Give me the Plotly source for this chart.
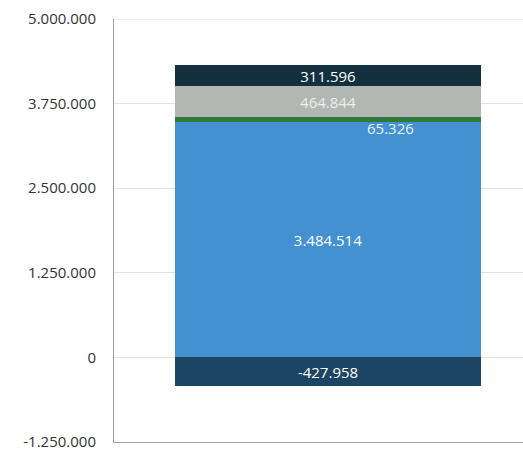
import plotly.graph_objects as go

# Stacked components of a single balance bar
segment_names = ["Base", "Adjustment", "Reserve", "Top-up", "Deduction"]
segment_values = [3484514, 65326, 464844, 311596, -427958]
segment_colors = ["#4391d0", "#2f7a3a", "#b3b7b4", "#12303d", "#1b4563"]
label_colors = ["#ffffff", "#e8f2ff", "#eeeeee", "#ffffff", "#ffffff"]

y_ticks = [-1250000, 0, 1250000, 2500000, 3750000, 5000000]

bar_x = 0.523
bar_width = 0.748
label_size = 15


def fmt(v):
    return f"{v:,}".replace(",", ".")


fig = go.Figure()
for name, val, col, lc in zip(segment_names, segment_values, segment_colors, label_colors):
    small = abs(val) < 150000
    fig.add_trace(go.Bar(
        x=[bar_x], y=[val], width=bar_width, name=name,
        marker=dict(color=col, line=dict(width=0)),
        text=None if small else [fmt(val)],
        textposition="inside", insidetextanchor="middle",
        textfont=dict(color=lc, size=label_size, family="Open Sans"),
        hoverinfo="skip",
    ))

# The thin segment gets its label placed just beneath it
thin = segment_values[1]
fig.add_annotation(
    x=0.675, y=segment_values[0] + thin / 2, text=fmt(thin),
    showarrow=False, yshift=-9, xref="x", yref="y",
    font=dict(color=label_colors[1], size=label_size, family="Open Sans"),
)

# Gridline on the top edge of the value range
fig.add_shape(type="line", xref="paper", yref="y", x0=0, x1=1,
              y0=y_ticks[-1], y1=y_ticks[-1],
              line=dict(color="#e3e3e3", width=1), layer="below")

fig.update_layout(
    width=523, height=451,
    margin=dict(l=114, r=0, t=19, b=5),
    barmode="relative", bargap=0,
    plot_bgcolor="white", paper_bgcolor="white",
    showlegend=False,
    separators=",.",
    font=dict(family="Open Sans", size=15, color="#333333"),
    uniformtext=dict(minsize=label_size, mode="show"),
)
fig.update_xaxes(range=[0, 1], showticklabels=False, showgrid=False,
                 zeroline=False, showline=True, linecolor="#a0a0a0", linewidth=1,
                 ticks="")
fig.update_yaxes(range=[-1250000, 5000000], tickvals=y_ticks,
                 ticktext=[fmt(v) for v in y_ticks],
                 showgrid=True, gridcolor="#e3e3e3", gridwidth=1,
                 zeroline=False, showline=True, linecolor="#a0a0a0", linewidth=1,
                 ticks="", ticklabelstandoff=14, ticklabeloverflow="allow",
                 tickfont=dict(size=15, color="#333333", family="Open Sans"))

fig.write_html("out.html")
